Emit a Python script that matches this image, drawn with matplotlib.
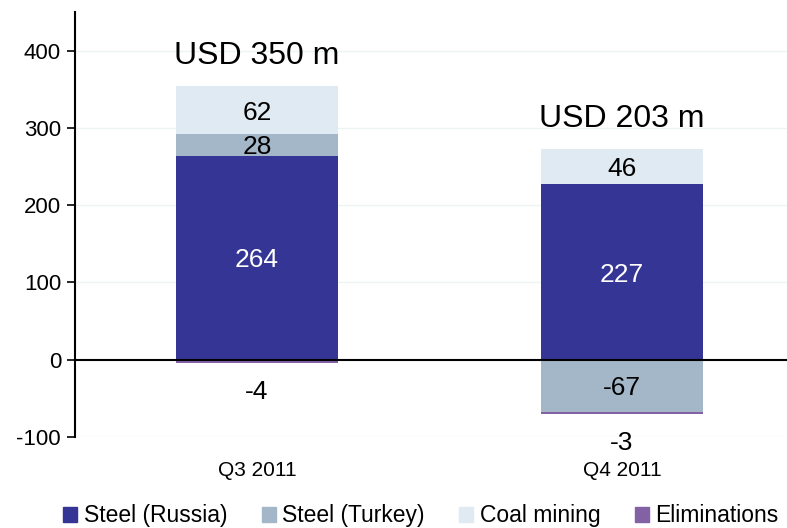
import matplotlib
matplotlib.use("Agg")
import matplotlib.pyplot as plt
from matplotlib.patches import Rectangle

plt.rcParams['font.family'] = ['Liberation Sans', 'DejaVu Sans']
plt.rcParams['axes.unicode_minus'] = False

# data
quarters = ['Q3 2011', 'Q4 2011']
segments = ['Steel (Russia)', 'Steel (Turkey)', 'Coal mining', 'Eliminations']
steel_russia = [264, 227]
steel_turkey = [28, -67]
coal_mining = [62, 46]
eliminations = [-4, -3]
totals = ['USD 350 m', 'USD 203 m']

colors = ['#353596', '#a4b7c9', '#e0eaf2', '#8262a4']
label_colors = ['white', 'black', 'black', 'black']

fig = plt.figure(figsize=(7.87, 5.28), dpi=100)
ax = fig.add_axes([0.0953, 0.1723, 0.9047, 0.805])

x = list(range(len(quarters)))
width = 0.444
series = [steel_russia, steel_turkey, coal_mining, eliminations]

pos_base = [0] * len(x)
neg_base = [0] * len(x)
for vals, col, lcol in zip(series, colors, label_colors):
    for i, v in enumerate(vals):
        if v >= 0:
            b = pos_base[i]
            pos_base[i] += v
        else:
            b = neg_base[i]
            neg_base[i] += v
        ax.bar(x[i], v, width, bottom=b, color=col, edgecolor='none', zorder=2)
        if vals is eliminations:
            # small values: label below the bar
            ax.annotate(str(v), (x[i], b + v), xytext=(0, -19), textcoords='offset points',
                        ha='center', va='center_baseline', fontsize=19, color=lcol)
        else:
            ax.text(x[i], b + v / 2, str(v), ha='center', va='center_baseline',
                    fontsize=19, color=lcol, zorder=3)

for i, t in enumerate(totals):
    ax.annotate(t, (x[i], pos_base[i]), xytext=(0, 24), textcoords='offset points',
                ha='center', va='center_baseline', fontsize=23)

ax.axhline(0, color='black', lw=1.5, zorder=4)

ax.set_xlim(-0.4986, 1.452)
ax.set_ylim(-100, 450)
ax.set_yticks([-100, 0, 100, 200, 300, 400])
ax.set_xticks(x)
ax.set_xticklabels(quarters)
ax.tick_params(axis='x', length=0, pad=17, labelsize=15)
ax.tick_params(axis='y', length=6, width=1.2, direction='out', labelsize=16, pad=4)

for yv in [-100, 100, 200, 300, 400]:
    ax.axhline(yv, color='#eef4f4', lw=1, zorder=0)

for s in ['top', 'right', 'bottom']:
    ax.spines[s].set_visible(False)
ax.spines['left'].set_linewidth(1.5)

handles = [Rectangle((0, 0), 1, 1, color=c) for c in colors]
fig.legend(handles, segments, loc='center', bbox_to_anchor=(0.535, 0.023), ncol=4,
           frameon=False, fontsize=16.5, handlelength=0.6, handleheight=0.6,
           handletextpad=0.3, columnspacing=1.5, borderpad=0, borderaxespad=0)

fig.savefig('out.png', dpi=100)
